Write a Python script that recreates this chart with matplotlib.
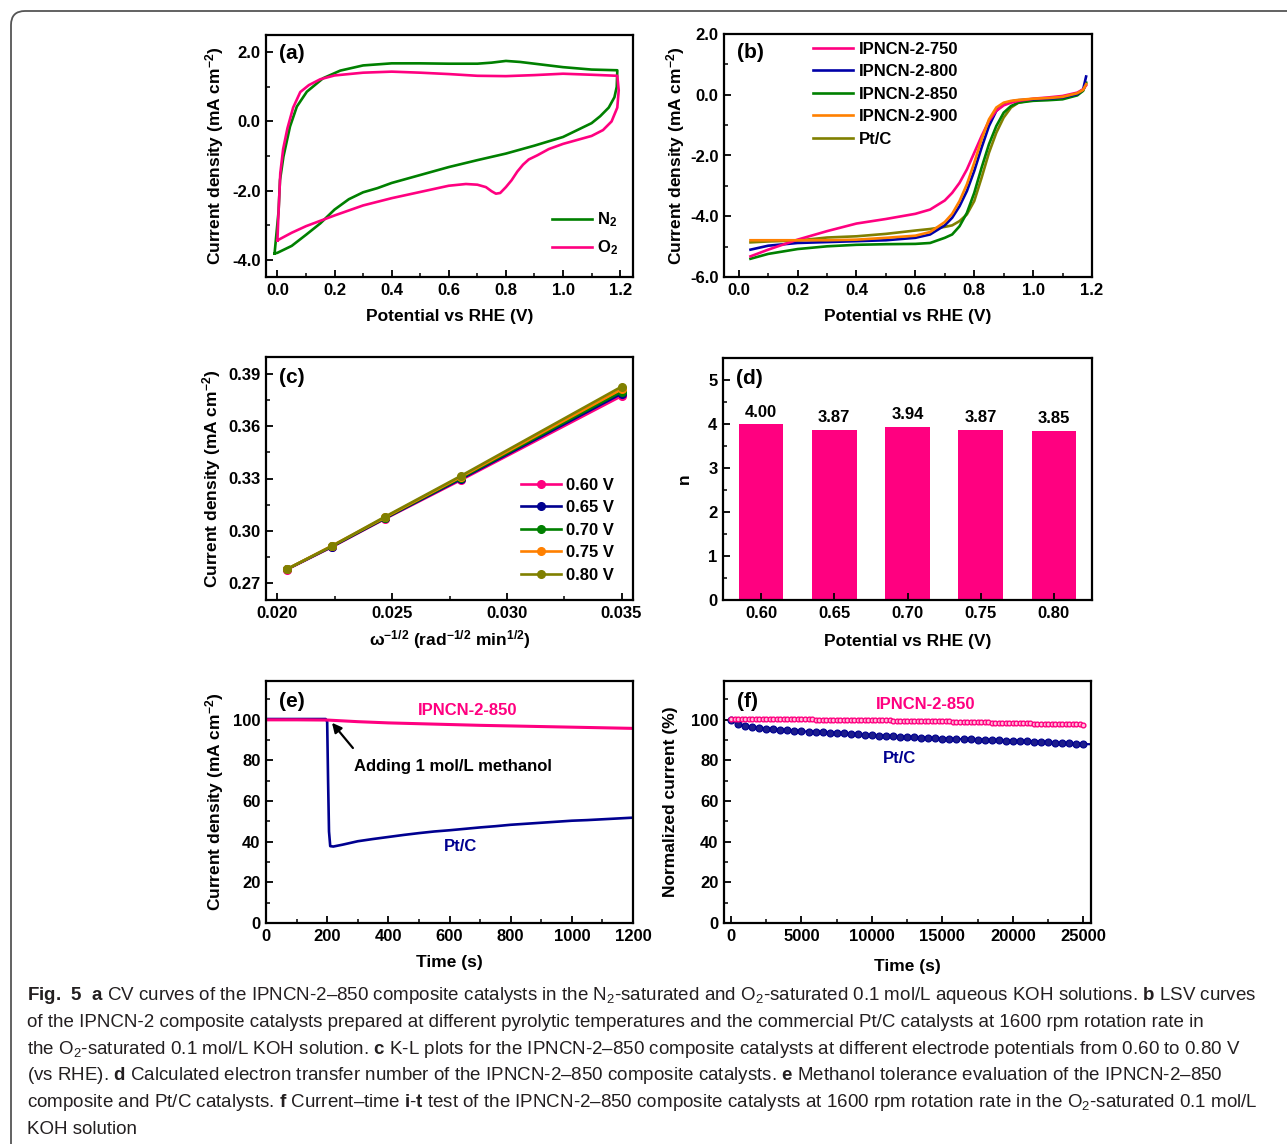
import matplotlib
matplotlib.use("Agg")
import matplotlib.pyplot as plt
from matplotlib import font_manager
from matplotlib.patches import FancyBboxPatch
from matplotlib.transforms import IdentityTransform
from matplotlib.ticker import MultipleLocator, FormatStrFormatter

W, H = 1287, 1144

PINK = '#FF0080'
GREEN = '#008000'
NAVY = '#000090'
BLUE = '#0000A8'
ORANGE = '#FF8000'
OLIVE = '#808000'

# (a) CV curves, closed loops
cv_n2_x = [-0.01, 0.004, 0.009, 0.021, 0.044, 0.068, 0.103, 0.16, 0.22, 0.3, 0.4, 0.5, 0.6, 0.7,
           0.75, 0.8, 0.85, 0.9, 1.0, 1.1, 1.19,
           1.19, 1.188, 1.18, 1.16, 1.13, 1.1, 1.05, 1.0, 0.9, 0.8, 0.7, 0.6, 0.5, 0.4, 0.35,
           0.3, 0.25, 0.2, 0.15, 0.1, 0.05, 0.0, -0.01]
cv_n2_y = [-3.82, -2.6, -1.7, -1.02, -0.15, 0.43, 0.86, 1.25, 1.47, 1.62, 1.68, 1.68, 1.67, 1.67,
           1.7, 1.75, 1.72, 1.67, 1.57, 1.5, 1.48,
           1.45, 1.0, 0.7, 0.4, 0.15, -0.05, -0.25, -0.45, -0.7, -0.93, -1.12, -1.32, -1.55, -1.78, -1.93,
           -2.05, -2.25, -2.55, -2.95, -3.28, -3.6, -3.8, -3.82]

cv_o2_x = [0.0, 0.003, 0.01, 0.02, 0.035, 0.055, 0.08, 0.11, 0.15, 0.2, 0.3, 0.4, 0.5, 0.6, 0.7,
           0.8, 0.9, 1.0, 1.1, 1.19,
           1.195, 1.19, 1.17, 1.14, 1.1, 1.0, 0.95, 0.91, 0.88, 0.86, 0.84, 0.82, 0.8, 0.78, 0.765,
           0.75, 0.73, 0.7, 0.66, 0.6, 0.5, 0.4, 0.3, 0.2, 0.1, 0.05, 0.0]
cv_o2_y = [-3.45, -2.8, -1.5, -0.8, -0.2, 0.4, 0.85, 1.05, 1.22, 1.33, 1.41, 1.44, 1.41, 1.37, 1.32,
           1.31, 1.34, 1.38, 1.35, 1.32,
           0.9, 0.4, 0.0, -0.25, -0.42, -0.65, -0.8, -0.98, -1.1, -1.25, -1.45, -1.7, -1.9, -2.07, -2.09,
           -2.02, -1.9, -1.83, -1.81, -1.86, -2.04, -2.22, -2.43, -2.72, -3.03, -3.22, -3.44]

# (b) LSV curves
lsv_x = [0.04, 0.1, 0.2, 0.3, 0.4, 0.5, 0.6, 0.65, 0.7, 0.725, 0.75, 0.775, 0.8, 0.825, 0.85,
         0.875, 0.9, 0.925, 0.95, 1.0, 1.05, 1.1, 1.15, 1.17, 1.18]
lsv_750 = [-5.32, -5.1, -4.77, -4.49, -4.24, -4.09, -3.92, -3.78, -3.48, -3.23, -2.9, -2.46, -1.91,
           -1.36, -0.86, -0.53, -0.35, -0.26, -0.2, -0.13, -0.09, -0.04, 0.07, 0.18, 0.31]
lsv_800 = [-5.1, -4.97, -4.88, -4.85, -4.82, -4.79, -4.71, -4.6, -4.3, -4.05, -3.67, -3.17, -2.51,
           -1.74, -1.03, -0.53, -0.31, -0.22, -0.18, -0.15, -0.13, -0.09, 0.02, 0.18, 0.6]
lsv_850 = [-5.4, -5.24, -5.08, -4.99, -4.94, -4.92, -4.91, -4.88, -4.71, -4.6, -4.33, -3.89, -3.23,
           -2.4, -1.63, -1.03, -0.59, -0.37, -0.26, -0.2, -0.18, -0.15, -0.02, 0.13, 0.4]
lsv_900 = [-4.79, -4.79, -4.79, -4.79, -4.77, -4.71, -4.64, -4.52, -4.19, -3.92, -3.5, -2.95, -2.24,
           -1.47, -0.81, -0.42, -0.26, -0.2, -0.17, -0.13, -0.11, -0.07, 0.05, 0.16, 0.35]
lsv_ptc = [-4.86, -4.83, -4.8, -4.7, -4.66, -4.58, -4.47, -4.42, -4.35, -4.3, -4.16, -3.94, -3.5,
           -2.73, -1.91, -1.25, -0.75, -0.42, -0.26, -0.17, -0.15, -0.12, 0.02, 0.16, 0.35]
lsv_labels = ['IPNCN-2-750', 'IPNCN-2-800', 'IPNCN-2-850', 'IPNCN-2-900', 'Pt/C']

# (c) K-L plots
kl_x = [0.0204, 0.02237, 0.02469, 0.02801, 0.035]
kl_060 = [0.2775, 0.2905, 0.3068, 0.3292, 0.3775]
kl_065 = [0.2776, 0.2907, 0.3070, 0.3298, 0.3789]
kl_070 = [0.2777, 0.2909, 0.3073, 0.3304, 0.3800]
kl_075 = [0.2777, 0.2912, 0.3076, 0.3310, 0.3814]
kl_080 = [0.2777, 0.2911, 0.3080, 0.3316, 0.3829]
kl_labels = ['0.60 V', '0.65 V', '0.70 V', '0.75 V', '0.80 V']

# (d) electron transfer number
n_pot = ['0.60', '0.65', '0.70', '0.75', '0.80']
n_val = [4.00, 3.87, 3.94, 3.87, 3.85]

# (e) methanol tolerance
e_ptc_t = [0, 100, 195, 200, 203, 206, 210, 220, 250, 300, 350, 400, 450, 500, 550, 600, 650,
           700, 750, 800, 850, 900, 950, 1000, 1050, 1100, 1150, 1200]
e_ptc_v = [100.3, 100.3, 100.3, 99.0, 70.0, 45.0, 37.8, 37.6, 38.5, 40.2, 41.3, 42.3, 43.3, 44.2,
           45.0, 45.6, 46.3, 47.0, 47.6, 48.3, 48.8, 49.3, 49.8, 50.3, 50.6, 51.0, 51.4, 51.8]
e_ipn_t = [0, 100, 200, 300, 400, 500, 600, 700, 800, 900, 1000, 1100, 1200]
e_ipn_v = [99.9, 99.9, 99.8, 99.0, 98.4, 98.0, 97.6, 97.2, 96.9, 96.6, 96.3, 96.0, 95.7]

# (f) i-t stability
f_ptc_t = [0, 500, 1000, 1500, 2000, 2500, 3000, 3500, 4000, 4500, 5000, 5500, 6000, 6500, 7000,
           7500, 8000, 8500, 9000, 9500, 10000, 10500, 11000, 11500, 12000, 12500, 13000, 13500,
           14000, 14500, 15000, 15500, 16000, 16500, 17000, 17500, 18000, 18500, 19000, 19500,
           20000, 20500, 21000, 21500, 22000, 22500, 23000, 23500, 24000, 24500, 25000, 25550]
f_ptc_v = [100.0, 97.9, 96.9, 96.4, 96.0, 95.6, 95.3, 95.0, 94.8, 94.5, 94.3, 94.1, 93.9, 93.8,
           93.6, 93.4, 93.2, 93.0, 92.8, 92.5, 92.3, 92.2, 92.0, 91.8, 91.7, 91.5, 91.3, 91.2,
           91.0, 90.9, 90.7, 90.6, 90.5, 90.4, 90.3, 90.2, 90.0, 89.9, 89.8, 89.7, 89.5, 89.4,
           89.3, 89.2, 89.1, 88.9, 88.7, 88.5, 88.4, 88.2, 88.0, 87.9]
f_ipn_t = list(range(0, 25001, 250))
f_ipn_v = [100.4, 100.4, 100.4, 100.4, 100.4, 100.3, 100.3, 100.3, 100.3, 100.3, 100.3,
           100.3, 100.3, 100.2, 100.2, 100.2, 100.2, 100.2, 100.1, 100.1, 100.1,
           100.1, 100.1, 100.1, 100.0, 100.0, 100.0, 100.0, 100.0, 99.9, 99.9,
           99.9, 99.9, 99.9, 99.8, 99.8, 99.8, 99.8, 99.7, 99.7, 99.7,
           99.7, 99.6, 99.6, 99.6, 99.6, 99.5, 99.5, 99.5, 99.5, 99.4,
           99.4, 99.4, 99.4, 99.3, 99.3, 99.3, 99.2, 99.2, 99.2, 99.1,
           99.1, 99.1, 99.0, 99.0, 99.0, 98.9, 98.9, 98.9, 98.8, 98.8,
           98.6, 98.6, 98.6, 98.5, 98.5, 98.5, 98.4, 98.4, 98.4, 98.3,
           98.3, 98.3, 98.2, 98.2, 98.2, 98.1, 98.1, 98.0, 98.0, 98.0,
           97.9, 97.9, 97.9, 97.8, 97.8, 97.8, 97.7, 97.7, 97.7, 97.6]

# caption font: narrow if available
names = set(f.name for f in font_manager.fontManager.ttflist)
cap_font = 'Liberation Sans Narrow' if 'Liberation Sans Narrow' in names else 'Liberation Sans'

plt.rcParams['font.family'] = ['Liberation Sans', 'DejaVu Sans']
plt.rcParams['font.weight'] = 'bold'
plt.rcParams['axes.labelweight'] = 'bold'
plt.rcParams['mathtext.default'] = 'regular'
plt.rcParams['mathtext.fontset'] = 'custom'
plt.rcParams['mathtext.bf'] = cap_font + ':bold'

fig = plt.figure(figsize=(W / 100, H / 100), dpi=100)


def box(l, t, r, b):
    return fig.add_axes([l / W, 1 - b / H, (r - l) / W, (b - t) / H])


def style(ax, tag, ty=0.915):
    for s in ax.spines.values():
        s.set_linewidth(1.6)
    ax.tick_params(which='major', direction='in', length=5, width=1.3, labelsize=12, pad=4)
    ax.tick_params(which='minor', direction='in', length=3, width=1.1)
    ax.text(0.035, ty, tag, transform=ax.transAxes, fontsize=15, ha='left', va='center')


ylab = 'Current density (mA cm$^{-2}$)'
xlab = 'Potential vs RHE (V)'

# ---- (a)
ax = box(266, 35, 633, 277)
ax.plot(cv_n2_x, cv_n2_y, color=GREEN, lw=1.9, label='N$_2$')
ax.plot(cv_o2_x, cv_o2_y, color=PINK, lw=1.9, label='O$_2$')
ax.set_xlim(-0.04, 1.245)
ax.set_ylim(-4.5, 2.5)
ax.xaxis.set_major_locator(MultipleLocator(0.2))
ax.xaxis.set_minor_locator(MultipleLocator(0.1))
ax.yaxis.set_major_locator(MultipleLocator(2.0))
ax.yaxis.set_minor_locator(MultipleLocator(1.0))
ax.xaxis.set_major_formatter(FormatStrFormatter('%.1f'))
ax.yaxis.set_major_formatter(FormatStrFormatter('%.1f'))
ax.set_xlabel(xlab, fontsize=12.5, labelpad=8.5)
ax.set_ylabel(ylab, fontsize=12.5)
ax.legend(loc='lower right', bbox_to_anchor=(1.0, 0.02), frameon=False, fontsize=12,
          handlelength=2.4, handletextpad=0.3, labelspacing=0.55)
style(ax, '(a)', 0.925)

# ---- (b)
ax = box(724, 34, 1092, 277)
for ys, c, lab, z in zip([lsv_750, lsv_800, lsv_850, lsv_900, lsv_ptc],
                         [PINK, BLUE, GREEN, ORANGE, OLIVE], lsv_labels, [5, 4, 3, 6, 2]):
    ax.plot(lsv_x, ys, color=c, lw=1.9, label=lab, zorder=z)
ax.set_xlim(-0.05, 1.2)
ax.set_ylim(-6.0, 2.0)
ax.xaxis.set_major_locator(MultipleLocator(0.2))
ax.xaxis.set_minor_locator(MultipleLocator(0.1))
ax.yaxis.set_major_locator(MultipleLocator(2.0))
ax.yaxis.set_minor_locator(MultipleLocator(1.0))
ax.xaxis.set_major_formatter(FormatStrFormatter('%.1f'))
ax.yaxis.set_major_formatter(FormatStrFormatter('%.1f'))
ax.set_xlabel(xlab, fontsize=12.5, labelpad=8.5)
ax.set_ylabel(ylab, fontsize=12.5, labelpad=2)
ax.legend(loc='upper left', bbox_to_anchor=(0.2, 1.03), frameon=False, fontsize=12,
          handlelength=2.4, handletextpad=0.4, labelspacing=0.45)
style(ax, '(b)', 0.925)

# ---- (c)
ax = box(266, 357, 633, 600)
for ys, c, lab in zip([kl_060, kl_065, kl_070, kl_075, kl_080],
                      [PINK, NAVY, GREEN, ORANGE, OLIVE], kl_labels):
    ax.plot(kl_x, ys, color=c, lw=1.9, marker='o', ms=5.5, mfc=c, mec=c, label=lab)
ax.set_xlim(0.0195, 0.0355)
ax.set_ylim(0.26, 0.40)
ax.xaxis.set_major_locator(MultipleLocator(0.005))
ax.xaxis.set_minor_locator(MultipleLocator(0.0025))
ax.yaxis.set_major_locator(MultipleLocator(0.03))
ax.yaxis.set_minor_locator(MultipleLocator(0.015))
ax.xaxis.set_major_formatter(FormatStrFormatter('%.3f'))
ax.yaxis.set_major_formatter(FormatStrFormatter('%.2f'))
ax.set_xlabel(r'$\omega^{-1/2}$ (rad$^{-1/2}$ min$^{1/2}$)', fontsize=12.5, labelpad=5.5)
ax.set_ylabel(ylab, fontsize=12.5)
ax.legend(loc='lower right', bbox_to_anchor=(0.99, 0.01), frameon=False, fontsize=12,
          handlelength=2.4, handletextpad=0.3, labelspacing=0.45)
style(ax, '(c)')

# ---- (d)
ax = box(723, 358, 1092, 600)
pos = list(range(len(n_val)))
ax.bar(pos, n_val, width=0.61, color=PINK)
for p, v in zip(pos, n_val):
    ax.text(p, v + 0.1, f'{v:.2f}', ha='center', va='bottom', fontsize=12)
ax.set_xticks(pos)
ax.set_xticklabels(n_pot)
ax.set_xlim(-0.52, 4.52)
ax.set_ylim(0, 5.5)
ax.yaxis.set_major_locator(MultipleLocator(1))
ax.yaxis.set_minor_locator(MultipleLocator(0.5))
ax.set_xlabel(xlab, fontsize=12.5, labelpad=9.5)
ax.set_ylabel('n', fontsize=12.5, labelpad=12)
style(ax, '(d)')

# ---- (e)
ax = box(266, 681, 633, 923)
ax.plot(e_ptc_t, e_ptc_v, color=NAVY, lw=1.9)
ax.plot(e_ipn_t, e_ipn_v, color=PINK, lw=2.2)
ax.set_xlim(0, 1200)
ax.set_ylim(0, 119)
ax.xaxis.set_major_locator(MultipleLocator(200))
ax.xaxis.set_minor_locator(MultipleLocator(100))
ax.yaxis.set_major_locator(MultipleLocator(20))
ax.yaxis.set_minor_locator(MultipleLocator(10))
ax.annotate('', xy=(210, 99.5), xytext=(290, 85),
            arrowprops=dict(arrowstyle='-|>', color='k', lw=1.6, mutation_scale=14))
ax.text(287, 77, 'Adding 1 mol/L methanol', fontsize=12, ha='left', va='center')
ax.text(660, 104.6, 'IPNCN-2-850', color=PINK, fontsize=12, ha='center', va='center')
ax.text(637, 37.8, 'Pt/C', color=NAVY, fontsize=12, ha='center', va='center')
ax.set_xlabel('Time (s)', fontsize=12.5, labelpad=8)
ax.set_ylabel(ylab, fontsize=12.5, labelpad=5)
style(ax, '(e)')

# ---- (f)
ax = box(724, 681, 1091, 923)
ax.plot(f_ptc_t, f_ptc_v, color=NAVY, lw=1.6, marker='o', ms=5, mfc='#1c1c8c', mec=NAVY,
        mew=0.8, markevery=slice(0, len(f_ptc_t) - 1))
ax.plot(f_ipn_t, f_ipn_v, color=PINK, lw=1.0, marker='o', ms=3.4, mfc='#ffc0dc', mec=PINK,
        mew=1.0)
ax.set_xlim(-500, 25550)
ax.set_ylim(0, 119)
ax.xaxis.set_major_locator(MultipleLocator(5000))
ax.xaxis.set_minor_locator(MultipleLocator(2500))
ax.yaxis.set_major_locator(MultipleLocator(20))
ax.yaxis.set_minor_locator(MultipleLocator(10))
ax.text(13836, 107.4, 'IPNCN-2-850', color=PINK, fontsize=12, ha='center', va='center')
ax.text(11992, 80.8, 'Pt/C', color=NAVY, fontsize=12, ha='center', va='center')
ax.set_xlabel('Time (s)', fontsize=12.5, labelpad=11)
ax.set_ylabel('Normalized current (%)', fontsize=12.5, labelpad=9)
style(ax, '(f)')

# rounded frame around figure + caption
frame = FancyBboxPatch((11, -60), 1400, H - 11 + 60, boxstyle='round,pad=0,rounding_size=14',
                       transform=IdentityTransform(), fill=False, ec='#555555', lw=1.3)
fig.add_artist(frame)

caption = [
    r'$\mathbf{Fig.\ 5}$  $\mathbf{a}$ CV curves of the IPNCN-2–850 composite catalysts in the N$_2$-saturated and O$_2$-saturated 0.1 mol/L aqueous KOH solutions. $\mathbf{b}$ LSV curves',
    'of the IPNCN-2 composite catalysts prepared at different pyrolytic temperatures and the commercial Pt/C catalysts at 1600 rpm rotation rate in',
    r'the O$_2$-saturated 0.1 mol/L KOH solution. $\mathbf{c}$ K-L plots for the IPNCN-2–850 composite catalysts at different electrode potentials from 0.60 to 0.80 V',
    r'(vs RHE). $\mathbf{d}$ Calculated electron transfer number of the IPNCN-2–850 composite catalysts. $\mathbf{e}$ Methanol tolerance evaluation of the IPNCN-2–850',
    r'composite and Pt/C catalysts. $\mathbf{f}$ Current–time $\mathbf{i}$-$\mathbf{t}$ test of the IPNCN-2–850 composite catalysts at 1600 rpm rotation rate in the O$_2$-saturated 0.1 mol/L',
    'KOH solution',
]
baselines = [1000, 1027, 1054, 1080, 1107, 1134]
for line, yb in zip(caption, baselines):
    fig.text(27 / W, 1 - yb / H, line, fontsize=13.5, family=cap_font, weight='normal',
             color='#231f20', ha='left', va='baseline')

fig.savefig('out.png', dpi=100)
